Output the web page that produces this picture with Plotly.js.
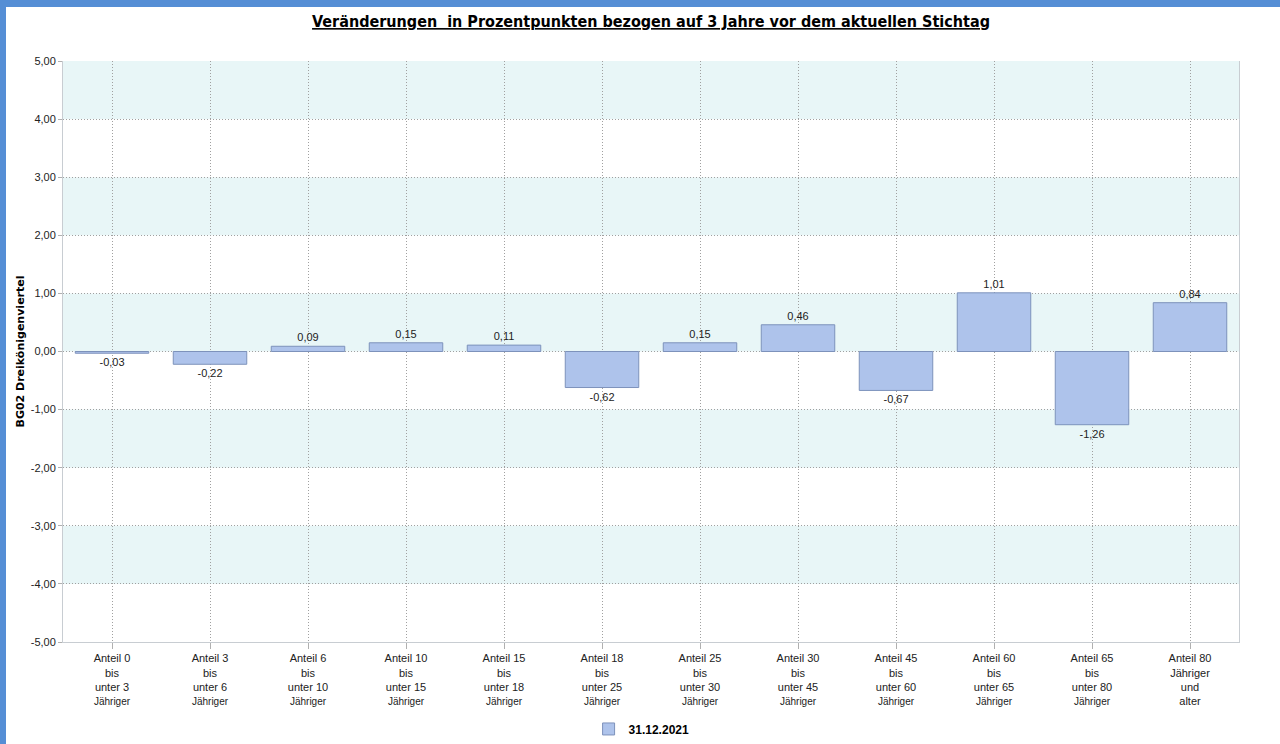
<!DOCTYPE html>
<html>
<head>
<meta charset="utf-8">
<script src="https://cdn.plot.ly/plotly-3.0.1.min.js"></script>
<style>
html, body { margin: 0; padding: 0; background: #558ed5; width: 1280px; height: 744px; overflow: hidden; }
#chart { position: absolute; left: 6px; top: 7px; width: 1274px; height: 737px; background: #ffffff; }
</style>
</head>
<body>
<div id="chart"></div>
<script>
const categories = [
  "Anteil 0<br>bis<br>unter 3<br><span style='font-size:10px'>Jähriger</span>",
  "Anteil 3<br>bis<br>unter 6<br><span style='font-size:10px'>Jähriger</span>",
  "Anteil 6<br>bis<br>unter 10<br><span style='font-size:10px'>Jähriger</span>",
  "Anteil 10<br>bis<br>unter 15<br><span style='font-size:10px'>Jähriger</span>",
  "Anteil 15<br>bis<br>unter 18<br><span style='font-size:10px'>Jähriger</span>",
  "Anteil 18<br>bis<br>unter 25<br><span style='font-size:10px'>Jähriger</span>",
  "Anteil 25<br>bis<br>unter 30<br><span style='font-size:10px'>Jähriger</span>",
  "Anteil 30<br>bis<br>unter 45<br><span style='font-size:10px'>Jähriger</span>",
  "Anteil 45<br>bis<br>unter 60<br><span style='font-size:10px'>Jähriger</span>",
  "Anteil 60<br>bis<br>unter 65<br><span style='font-size:10px'>Jähriger</span>",
  "Anteil 65<br>bis<br>unter 80<br><span style='font-size:10px'>Jähriger</span>",
  "Anteil 80<br>Jähriger<br>und<br>alter"
];
const values2021 = [-0.03, -0.22, 0.09, 0.15, 0.11, -0.62, 0.15, 0.46, -0.67, 1.01, -1.26, 0.84];
const seriesName = "31.12.2021";
const yTickValues = [-5, -4, -3, -2, -1, 0, 1, 2, 3, 4, 5];
const yTickLabels = ["-5,00", "-4,00", "-3,00", "-2,00", "-1,00", "0,00", "1,00", "2,00", "3,00", "4,00", "5,00"];
const bandRanges = [[4, 5], [2, 3], [0, 1], [-2, -1], [-4, -3]];
const chartTitle = "Veränderungen  in Prozentpunkten bezogen auf 3 Jahre vor dem aktuellen Stichtag";
const yAxisTitle = "BG02 Dreikönigenviertel";

const labelText = values2021.map(v => v.toFixed(2).replace('.', ','));

const trace = {
  type: 'bar',
  x: categories,
  y: values2021,
  name: seriesName,
  text: labelText,
  textposition: 'outside',
  cliponaxis: false,
  textfont: { family: 'Liberation Sans, Arial, sans-serif', size: 11, color: '#222222' },
  marker: { color: '#aec3eb', line: { color: '#7d92bb', width: 1 } },
  width: 0.75,
  hoverinfo: 'x+y'
};

const shapes = bandRanges.map(r => ({
  type: 'rect', xref: 'paper', yref: 'y', x0: 0, x1: 1, y0: r[0], y1: r[1],
  fillcolor: '#e8f6f7', line: { width: 0 }, layer: 'below'
}));

const layout = {
  width: 1274, height: 737,
  margin: { l: 57, r: 41, t: 54, b: 102 },
  paper_bgcolor: '#ffffff',
  plot_bgcolor: '#ffffff',
  separators: ',.',
  showlegend: true,
  title: {
    text: '<u>' + chartTitle + '</u>',
    font: { family: 'DejaVu Sans Condensed, Liberation Sans Narrow, sans-serif', size: 16, color: '#000000', weight: 'bold' },
    x: 0.5, xanchor: 'center', xref: 'paper',
    y: 0.988, yanchor: 'top'
  },
  xaxis: {
    type: 'category',
    showgrid: true, gridcolor: '#a0a0a0', griddash: '1px,2px', gridwidth: 1,
    showline: true, linecolor: '#c8cdd2', linewidth: 1,
    ticks: 'outside', ticklen: 6, tickcolor: '#b0b0b0',
    tickfont: { family: 'Liberation Sans, Arial, sans-serif', size: 11, color: '#222222' },
    tickangle: 0,
    automargin: false,
    fixedrange: true
  },
  yaxis: {
    range: [-5, 5],
    tickvals: yTickValues, ticktext: yTickLabels,
    showgrid: true, gridcolor: '#a0a0a0', griddash: '1px,2px', gridwidth: 1,
    zeroline: false,
    showline: true, linecolor: '#c8cdd2', linewidth: 1, mirror: true,
    ticks: 'outside', ticklen: 4, tickcolor: '#b0b0b0',
    tickfont: { family: 'Liberation Sans, Arial, sans-serif', size: 11, color: '#222222' },
    title: { text: '<b>' + yAxisTitle + '</b>', font: { family: 'DejaVu Sans, Verdana, sans-serif', size: 11, color: '#000000' }, standoff: 3 },
    automargin: false,
    fixedrange: true
  },
  legend: {
    orientation: 'h', x: 0.492, xanchor: 'center', xref: 'paper',
    y: 0.0204, yanchor: 'middle', yref: 'container',
    font: { family: 'Liberation Sans, Arial, sans-serif', size: 12, color: '#000000', weight: 'bold' },
    bgcolor: 'rgba(0,0,0,0)'
  },
  shapes: shapes,
  bargap: 0.25
};

Plotly.newPlot('chart', [trace], layout, { displayModeBar: false, staticPlot: true });
</script>
</body>
</html>
